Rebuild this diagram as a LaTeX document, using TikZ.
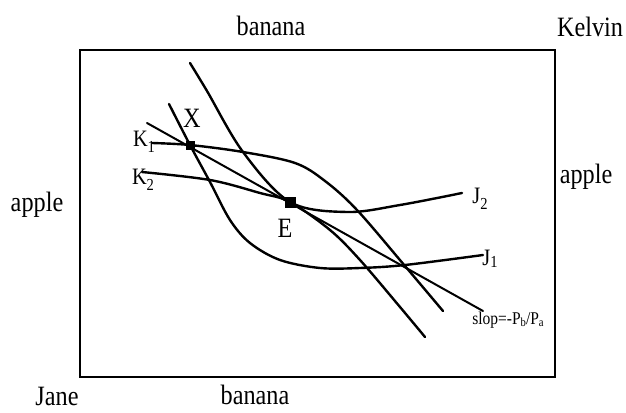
\documentclass[tikz,border=0pt]{standalone}
\usepackage{fontspec}
\setmainfont{Liberation Serif}
\newcommand\tallt[1]{\scalebox{0.97}[1.12]{#1}}
\begin{document}
\begin{tikzpicture}[x=1pt,y=-1pt,
  curve/.style={line width=2.4pt, line join=round, line cap=round},
  lbl/.style={font=\fontsize{25}{25}\selectfont, inner sep=0pt},
  clbl/.style={font=\fontsize{21}{21}\selectfont, inner sep=0pt},
  slbl/.style={font=\fontsize{16}{16}\selectfont, inner sep=0pt},
  marker/.style={fill=black, rectangle, inner sep=0pt}]
\useasboundingbox (0,0) rectangle (626,412);
\fill[white] (0,0) rectangle (626,412);
% box
\draw[line width=1.5pt] (80,50) rectangle (555,377);
% outer labels
\node[lbl] (bantop) at (271,26) {\tallt{banana}};
\node[lbl] (kelvin) at (590,27) {\tallt{Kelvin}};
\node[lbl] (appleL) at (37,205) {\tallt{apple}};
\node[lbl] (appleR) at (586,177) {\tallt{apple}};
\node[lbl] (jane) at (57,396) {\tallt{Jane}};
\node[lbl] (banbot) at (255,395) {\tallt{banana}};
% points
\coordinate (X) at (190,145);
\coordinate (E) at (290,202);
% slope line
\draw[curve, line width=2pt] (147,123) -- (483,311);
% J2
\draw[curve] plot[smooth, tension=0.55] coordinates {(190,63) (207,91) (243,152) (290,202) (347,212) (400,205) (462,193)};
% K2
\draw[curve] plot[smooth, tension=0.55] coordinates {(142,172) (210,180) (260,193) (290,202) (330,230) (360,260) (400,307) (425,337)};
% K1
\draw[curve] plot[smooth, tension=0.55] coordinates {(152,143) (190,145) (243,152) (295,163) (325,181) (357,210) (405,266) (443,311)};
% J1
\draw[curve] plot[smooth, tension=0.55] coordinates {(169,104) (190,145) (210,182) (230,220) (250,243) (280,260) (320,268) (360,268) (405,265) (483,255)};
% markers
\node[marker, minimum size=9pt] (Xm) at (X) {};
\node[marker, minimum size=11pt] (Em) at (E) {};
% curve labels
\node[lbl] (Xl) at (192,118) {\tallt{X}};
\node[lbl] (El) at (285,228) {\tallt{E}};
\node[clbl] (K1) at (144,142) {\tallt{K\raisebox{-5pt}{\fontsize{15}{15}\selectfont 1}}};
\node[clbl] (K2) at (143,180) {\tallt{K\raisebox{-5pt}{\fontsize{15}{15}\selectfont 2}}};
\node[clbl] (J2) at (480,199) {\tallt{J\raisebox{-5pt}{\fontsize{15}{15}\selectfont 2}}};
\node[clbl] (J1) at (490,259) {\tallt{J\raisebox{-2pt}{\fontsize{15}{15}\selectfont 1}}};
\node[slbl] (slop) at (508,320) {\tallt{slop=-P\raisebox{-2pt}{\fontsize{11}{11}\selectfont b}/P\raisebox{-2pt}{\fontsize{11}{11}\selectfont a}}};
\end{tikzpicture}
\end{document}
